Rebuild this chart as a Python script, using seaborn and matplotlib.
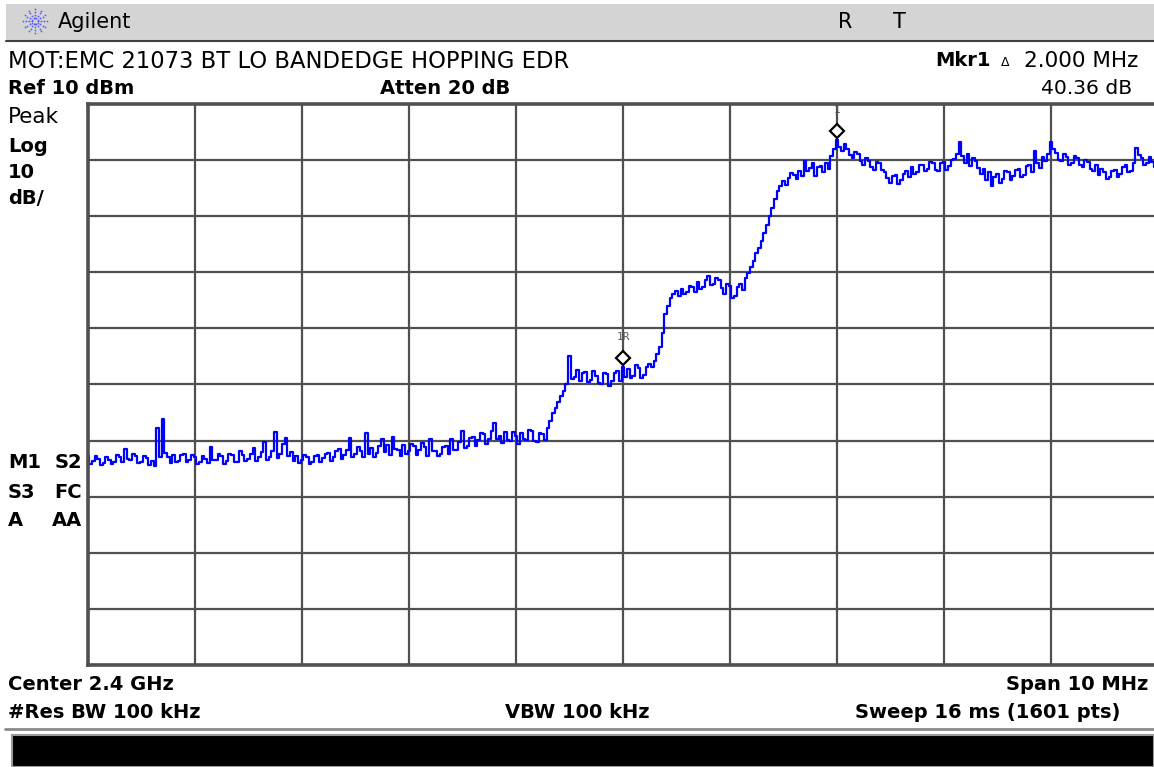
import numpy as np
import pandas as pd
import matplotlib
matplotlib.use('Agg')
import matplotlib.pyplot as plt
import matplotlib.transforms as mtransforms
from matplotlib.patches import Rectangle
from matplotlib.lines import Line2D
import seaborn as sns

# settings of the analyzer
CENTER_MHZ = 2400.0
SPAN_MHZ = 10.0
REF_DBM = 10.0
DB_PER_DIV = 10.0
STEP_MHZ = 0.025

# trace, dBm, one value every 0.025 MHz from 2395 MHz
trace_dbm = [
    -52.8, -54.1, -53.6, -52.7, -53.2, -54.3, -54.0, -52.9, -53.4, -54.2,
    -53.8, -52.6, -52.9, -53.9, -51.5, -53.2, -53.5, -52.4, -52.7, -54.0,
    -53.9, -52.8, -53.1, -54.3, -53.6, -54.6, -47.8, -53.0, -46.2, -52.2,
    -53.0, -54.0, -52.6, -53.8, -53.7, -52.5, -52.4, -53.9, -53.5, -52.6,
    -52.9, -54.1, -53.8, -52.7, -53.2, -54.0, -51.2, -53.5, -53.4, -52.3,
    -52.8, -54.2, -53.6, -52.4, -52.5, -53.8, -53.9, -51.9, -52.6, -53.7,
    -53.3, -52.4, -51.4, -53.6, -53.0, -52.1, -50.3, -53.4, -52.9, -51.8,
    -48.4, -53.1, -52.4, -50.6, -49.5, -52.8, -52.0, -53.6, -52.7, -54.0,
    -53.4, -52.6, -53.0, -54.2, -53.8, -52.7, -52.5, -53.9, -53.1, -52.3,
    -52.2, -53.7, -53.0, -51.9, -51.5, -53.2, -52.6, -51.7, -49.6, -52.9,
    -52.3, -51.2, -51.8, -53.0, -48.6, -52.4, -51.4, -52.9, -52.2, -50.9,
    -49.8, -52.1, -50.7, -52.6, -49.3, -51.5, -51.6, -52.8, -50.8, -52.4,
    -51.9, -50.6, -50.9, -52.5, -51.6, -50.4, -51.2, -52.7, -49.7, -51.9,
    -51.8, -52.8, -52.3, -51.1, -51.0, -52.4, -49.8, -51.6, -51.7, -50.2,
    -48.3, -51.3, -50.9, -49.6, -49.3, -51.0, -49.9, -48.6, -48.9, -50.6,
    -49.7, -48.2, -46.8, -49.8, -49.2, -50.4, -48.4, -49.9, -50.1, -48.5,
    -49.1, -50.6, -48.6, -49.8, -49.9, -48.1, -48.3, -50.0, -50.2, -48.7,
    -48.8, -49.9, -47.7, -46.5, -45.0, -44.2, -43.2, -42.0, -41.2, -40.0,
    -34.9, -39.0, -38.6, -37.4, -39.4, -38.0, -37.8, -39.6, -39.2, -37.6,
    -38.4, -39.8, -39.9, -38.0, -38.1, -40.2, -39.3, -37.9, -37.6, -39.4,
    -36.9, -38.6, -37.2, -38.9, -38.5, -36.6, -37.0, -38.8, -38.3, -36.8,
    -36.3, -36.9, -35.8, -34.6, -33.3, -30.8, -27.5, -26.0, -24.5, -23.9,
    -23.3, -24.2, -22.9, -23.8, -23.6, -22.4, -22.7, -23.5, -21.8, -22.9,
    -22.6, -21.4, -20.6, -22.3, -22.0, -21.0, -21.3, -22.8, -23.8, -22.1,
    -22.5, -24.6, -24.3, -22.7, -22.0, -23.2, -21.0, -20.2, -19.0, -17.9,
    -16.5, -15.6, -14.5, -13.0, -11.5, -10.0, -8.5, -7.0, -5.5, -4.6,
    -3.8, -4.4, -3.2, -2.3, -2.7, -3.4, -1.9, -2.8, -0.2, -1.9,
    -1.4, -0.6, -2.9, -1.2, -1.0, -2.2, -0.6, -1.5, 0.8, 2.0,
    3.5, 2.4, 1.6, 2.8, 1.9, 0.9, 0.4, 1.5, 1.0, -0.1,
    -0.9, 0.4, -0.2, -1.3, -1.8, -0.4, -0.6, -1.7, -2.1, -3.2,
    -4.0, -2.8, -2.6, -4.3, -3.6, -2.4, -2.0, -3.1, -1.2, -2.4,
    -2.2, -0.9, -0.8, -2.0, -1.6, -0.4, -0.5, -1.8, -1.9, -0.6,
    -0.4, -1.7, -1.1, 0.1, 0.2, 1.0, 3.3, 0.8, -0.5, 1.0,
    -1.0, 0.3, -0.2, -1.4, -2.5, -1.6, -3.6, -2.2, -4.6, -3.1,
    -2.4, -4.0, -3.4, -2.0, -2.2, -3.6, -2.8, -1.7, -1.5, -3.0,
    -2.6, -1.0, -0.9, -2.1, 1.6, -0.6, -1.4, 0.5, -0.2, 1.1,
    3.3, 2.0, 1.2, 0.0, -0.2, 1.0, 0.6, -0.8, -0.6, 0.7,
    0.3, -0.9, -1.2, 0.0, -0.4, -1.5, -1.9, -0.9, -2.7, -1.6,
    -2.2, -3.4, -3.1, -1.9, -1.7, -3.0, -2.4, -1.2, -0.8, -2.2,
    -1.9, -0.5, 2.2, 0.9, 0.4, -0.9, -0.6, 0.6, -0.3, -1.2,
    0.1,
]

# markers: name, frequency in MHz
marker_names = ['1R', '1']
marker_freqs = [2400.0, 2402.0]

freq_mhz = CENTER_MHZ - SPAN_MHZ / 2 + np.arange(len(trace_dbm)) * STEP_MHZ
df = pd.DataFrame({'freq': freq_mhz, 'level': trace_dbm})

W, H = 1154, 767
sns.set_theme(style='white')
plt.rcParams['font.family'] = ['DejaVu Sans']

fig = plt.figure(figsize=(W / 100, H / 100), dpi=100)
fig.patch.set_facecolor('white')


def put(x, y, s, **kw):
    # place a screen label at pixel position
    kw.setdefault('va', 'center')
    kw.setdefault('color', 'black')
    fig.text(x / W, 1 - y / H, s, **kw)


def fig_line(x0, y0, x1, y1, **kw):
    fig.add_artist(Line2D([x0 / W, x1 / W], [1 - y0 / H, 1 - y1 / H],
                          transform=fig.transFigure, **kw))


# title bar
fig.add_artist(Rectangle((6 / W, 1 - 40 / H), 1 - 6 / W, 36 / H,
                         transform=fig.transFigure, facecolor='#d4d4d4',
                         edgecolor='none'))
fig_line(6, 41, W, 41, color='#404040', lw=1.5)
# little starburst logo
for ang in np.arange(0, 360, 30):
    r = np.array([3, 6, 9, 12])
    xs = 35 + r * np.cos(np.radians(ang))
    ys = 21 + r * np.sin(np.radians(ang))
    fig.add_artist(Line2D(xs / W, 1 - ys / H, transform=fig.transFigure,
                          ls='none', marker='o', ms=1.3, color='#5a5aff',
                          mec='none'))
put(58, 22, 'Agilent', fontsize=15)
put(838, 22, 'R', fontsize=15)
put(893, 22, 'T', fontsize=15)

BOLD = 14
# header lines
put(8, 61, 'MOT:EMC 21073 BT LO BANDEDGE HOPPING EDR', fontsize=16.3)
put(935, 61, 'Mkr1', fontsize=BOLD, fontweight='bold')
put(1001, 62, 'Δ', fontsize=9)
put(1138, 61, '2.000 MHz', fontsize=15.5, ha='right')
put(8, 89, 'Ref 10 dBm', fontsize=BOLD, fontweight='bold')
put(380, 89, 'Atten 20 dB', fontsize=BOLD, fontweight='bold')
put(1132, 89, '40.36 dB', fontsize=14.6, ha='right')

# left side annotations
put(8, 117, 'Peak', fontsize=15.5)
put(8, 146, 'Log', fontsize=BOLD, fontweight='bold')
put(8, 172, '10', fontsize=BOLD, fontweight='bold')
put(8, 199, 'dB/', fontsize=BOLD, fontweight='bold')
for y, a, b in [(463, 'M1', 'S2'), (492, 'S3', 'FC'), (521, 'A', 'AA')]:
    put(8, y, a, fontsize=BOLD, fontweight='bold')
    put(82, y, b, fontsize=BOLD, fontweight='bold', ha='right')

# footer
put(8, 685, 'Center 2.4 GHz', fontsize=BOLD, fontweight='bold')
put(1148, 685, 'Span 10 MHz', fontsize=BOLD, fontweight='bold', ha='right')
put(8, 713, '#Res BW 100 kHz', fontsize=BOLD, fontweight='bold')
put(505, 713, 'VBW 100 kHz', fontsize=BOLD, fontweight='bold')
put(1120, 713, 'Sweep 16 ms (1601 pts)', fontsize=BOLD, fontweight='bold', ha='right')
fig_line(5, 729, W, 729, color='#8a8a8a', lw=2)
fig.add_artist(Rectangle((12 / W, 0), 1 - 12 / W, 32 / H,
                         transform=fig.transFigure, facecolor='black',
                         edgecolor='#9a9a9a', lw=1.5))

# graticule, right edge runs a little past the screen
ax = fig.add_axes([88 / W, 1 - 665 / H, 1070 / W, 561 / H])
sns.lineplot(data=df, x='freq', y='level', ax=ax, color='#0000ff',
             lw=1.6, drawstyle='steps-mid', estimator=None, sort=False)

ax.set_xlim(CENTER_MHZ - SPAN_MHZ / 2, CENTER_MHZ + SPAN_MHZ / 2)
ax.set_ylim(REF_DBM - 10 * DB_PER_DIV, REF_DBM)
ax.set_xticks(np.linspace(CENTER_MHZ - SPAN_MHZ / 2, CENTER_MHZ + SPAN_MHZ / 2, 11))
ax.set_yticks(np.arange(REF_DBM - 10 * DB_PER_DIV, REF_DBM + 1, DB_PER_DIV))
ax.tick_params(length=0, labelbottom=False, labelleft=False)
ax.set_xlabel('')
ax.set_ylabel('')
ax.grid(True, color='#505050', lw=1.6)
ax.set_axisbelow(True)
for sp in ax.spines.values():
    sp.set_color('#505050')
    sp.set_linewidth(2.6)

# delta markers sit a few pixels above the trace point
lift = mtransforms.offset_copy(ax.transData, fig=fig, x=0, y=9, units='dots')
for name, f in zip(marker_names, marker_freqs):
    lvl = df.loc[(df['freq'] - f).abs().idxmin(), 'level']
    ax.plot([f], [lvl], marker='D', ms=7.5, mfc='white', mec='black',
            mew=1.6, transform=lift, clip_on=False, zorder=5)
    ax.annotate(name, (f, lvl), xytext=(0, 22), textcoords='offset points',
                ha='center', va='center', fontsize=8, color='#555555',
                family='DejaVu Sans Mono', annotation_clip=False)

fig.savefig('out.png', dpi=100)
